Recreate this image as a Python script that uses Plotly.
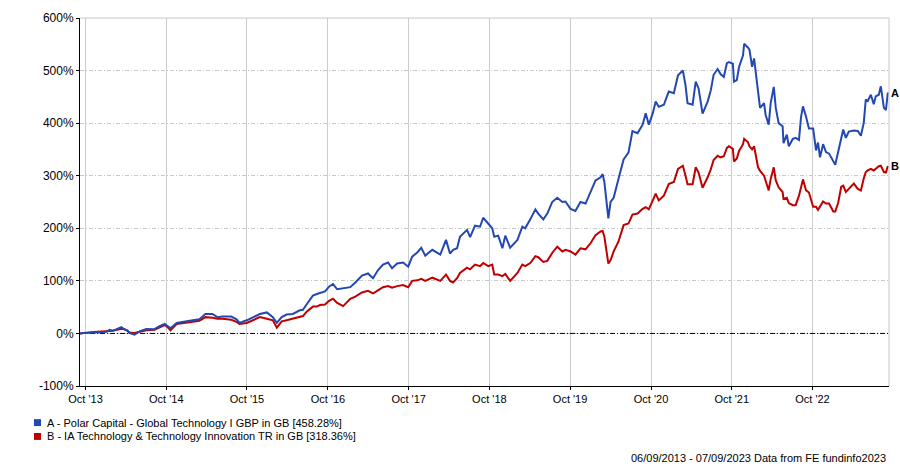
import plotly.graph_objects as go

# values (cumulative % return)
dates = [
    "2013-09-06", "2013-09-20", "2013-10-19", "2013-11-08", "2013-12-03", "2014-01-04", "2014-01-18",
    "2014-02-01", "2014-03-12", "2014-03-25", "2014-04-08", "2014-04-17", "2014-05-10", "2014-06-02",
    "2014-07-03", "2014-08-09", "2014-09-01", "2014-09-24", "2014-10-07", "2014-10-20", "2014-11-17",
    "2015-01-02", "2015-01-29", "2015-02-28", "2015-03-27", "2015-04-28", "2015-05-20", "2015-06-12",
    "2015-07-22", "2015-08-15", "2015-08-28", "2015-09-30", "2015-11-05", "2015-11-28", "2015-12-30",
    "2016-01-26", "2016-02-13", "2016-03-06", "2016-03-28", "2016-04-25", "2016-05-27", "2016-06-10",
    "2016-06-28", "2016-07-11", "2016-07-25", "2016-08-12", "2016-08-26", "2016-09-18", "2016-10-06",
    "2016-10-24", "2016-11-12", "2016-12-09", "2017-01-10", "2017-02-02", "2017-03-04", "2017-03-31",
    "2017-04-23", "2017-05-15", "2017-06-07", "2017-06-30", "2017-07-18", "2017-08-10", "2017-09-06",
    "2017-09-29", "2017-10-17", "2017-11-09", "2017-11-27", "2017-12-15", "2018-01-16", "2018-02-21",
    "2018-03-19", "2018-04-06", "2018-04-20", "2018-05-08", "2018-05-21", "2018-06-22", "2018-07-06",
    "2018-07-28", "2018-08-20", "2018-09-03", "2018-09-26", "2018-10-14", "2018-10-23", "2018-11-10",
    "2018-11-29", "2018-12-12", "2019-01-03", "2019-02-05", "2019-02-27", "2019-03-12", "2019-04-04",
    "2019-04-27", "2019-05-10", "2019-06-02", "2019-06-20", "2019-07-12", "2019-08-04", "2019-08-27",
    "2019-09-10", "2019-10-03", "2019-10-25", "2019-11-17", "2019-12-10", "2020-01-02", "2020-01-24",
    "2020-02-16", "2020-02-25", "2020-03-04", "2020-03-18", "2020-03-22", "2020-04-01", "2020-04-15",
    "2020-05-07", "2020-05-30", "2020-06-21", "2020-07-09", "2020-08-01", "2020-08-24", "2020-09-07",
    "2020-09-21", "2020-10-09", "2020-10-22", "2020-11-05", "2020-11-28", "2020-12-20", "2021-01-12",
    "2021-01-31", "2021-02-22", "2021-03-06", "2021-03-15", "2021-04-07", "2021-04-21", "2021-05-04",
    "2021-05-22", "2021-06-14", "2021-06-28", "2021-07-11", "2021-07-29", "2021-08-12", "2021-08-26",
    "2021-09-09", "2021-09-18", "2021-10-06", "2021-10-11", "2021-10-24", "2021-11-03", "2021-11-21",
    "2021-11-26", "2021-12-13", "2021-12-20", "2022-01-01", "2022-01-10", "2022-01-28", "2022-02-06",
    "2022-02-24", "2022-03-03", "2022-03-17", "2022-03-26", "2022-04-09", "2022-04-18", "2022-05-01",
    "2022-05-19", "2022-05-23", "2022-06-07", "2022-06-16", "2022-07-04", "2022-07-17", "2022-08-01",
    "2022-08-10", "2022-08-19", "2022-09-02", "2022-09-15", "2022-10-04", "2022-10-17", "2022-10-26",
    "2022-11-04", "2022-11-18", "2022-12-01", "2022-12-15", "2023-01-03", "2023-01-12", "2023-01-25",
    "2023-02-08", "2023-02-17", "2023-03-01", "2023-03-14", "2023-04-06", "2023-04-24", "2023-05-08",
    "2023-05-21", "2023-05-30", "2023-06-08", "2023-06-22", "2023-07-05", "2023-07-14", "2023-07-28",
    "2023-08-06", "2023-08-20", "2023-08-29", "2023-09-03", "2023-09-07",
]

polar = [
    0, 1, 1.5, 2, 3, 3, 7, 5, 12, 8, 6, 1, -2.5, 4, 8.5, 8, 14, 18, 14, 10, 20,
    24, 25, 27, 37, 37, 31, 32, 32, 27, 20, 25, 33, 37, 40,
    31, 20, 31, 36, 37, 44, 45, 56, 63, 72, 75, 77, 80, 89,
    94, 84, 86, 88, 97, 110, 114, 105, 120, 131, 135, 124, 133, 135,
    127, 146, 154, 163, 148, 159, 150, 178, 152, 159, 162, 184, 197, 183,
    205, 203, 220, 209, 200, 184, 186, 162, 186, 163, 178, 203, 200, 217,
    236, 228, 217, 228, 250, 258, 250, 251, 237, 233, 250, 247, 269, 291,
    297, 303, 288, 228, 219, 250, 258, 294, 331, 344, 385, 381, 397, 419,
    397, 419, 441, 431, 435, 460, 457, 491, 500, 472, 438, 435, 479, 466,
    418, 441, 462, 492, 503, 493, 488, 514, 516, 513, 479, 482, 507, 529,
    551, 544, 540, 507, 523, 460, 429, 438, 416, 397, 438, 469, 429, 400,
    394, 362, 378, 356, 370, 372, 368, 411, 432, 412, 390, 390, 348, 363,
    335, 360, 345, 342, 329, 321, 345, 373, 388, 372, 384, 386, 385, 376,
    401, 445, 442, 454, 436, 451, 454, 470, 429, 425, 454, 458.28,
]

ia_tech = [
    0, 1, 2, 2.5, 3, 4, 5, 5, 9, 8, 5, 2, 1, 3, 6, 7, 11, 16, 12, 6, 18,
    20, 22, 24, 31, 30, 28, 28, 26, 22, 18, 20, 26, 31, 28,
    25, 11, 23, 25, 28, 31, 33, 42, 47, 51, 51, 54, 55, 62,
    66, 58, 52, 66, 70, 78, 81, 76, 82, 88, 90, 87, 90, 92,
    88, 100, 101, 104, 100, 106, 100, 112, 100, 97, 105, 115, 125, 122,
    131, 128, 134, 128, 131, 112, 112, 109, 113, 100, 115, 131, 128, 134,
    147, 145, 136, 138, 153, 165, 156, 159, 156, 150, 162, 160, 172, 187,
    194, 195, 184, 137, 133, 139, 156, 175, 206, 209, 226, 228, 237, 240,
    236, 253, 266, 253, 262, 284, 288, 313, 319, 300, 284, 284, 316, 306,
    277, 297, 312, 330, 338, 335, 337, 353, 356, 351, 327, 333, 347, 360,
    370, 364, 356, 350, 356, 316, 309, 300, 291, 272, 294, 316, 291, 278,
    269, 256, 258, 248, 244, 244, 262, 275, 293, 272, 268, 241, 241, 235,
    241, 251, 247, 247, 232, 232, 248, 279, 281, 269, 275, 285, 275, 272,
    295, 307, 310, 313, 310, 313, 318, 319, 307, 306, 313, 318.36,
]

x_ticks = ["2013-10-01", "2014-10-01", "2015-10-01", "2016-10-01", "2017-10-01",
           "2018-10-01", "2019-10-01", "2020-10-01", "2021-10-01", "2022-10-01"]
y_ticks = [-100, 0, 100, 200, 300, 400, 500, 600]
y_labels = ["%d%%" % v for v in y_ticks]

series_names = [
    "A - Polar Capital - Global Technology I GBP in GB [458.28%]",
    "B - IA Technology & Technology Innovation TR in GB [318.36%]",
]
colours = ["#2448B2", "#C00000"]

FONT = "Liberation Sans, Arial, sans-serif"

fig = go.Figure()

# black dash-dot reference line at 0%
fig.add_trace(go.Scatter(x=[dates[0], "2023-09-12"], y=[0, 0], mode="lines",
                         line=dict(color="black", width=1, dash="5px,2px,1px,2px"), showlegend=False, hoverinfo="skip"))

for vals, col in [(ia_tech, colours[1]), (polar, colours[0])]:
    fig.add_trace(go.Scatter(x=dates, y=vals, mode="lines", line=dict(color=col, width=2),
                             showlegend=False, hoverinfo="skip"))

# end-of-line tags
for vals, tag in [(polar, "A"), (ia_tech, "B")]:
    fig.add_annotation(x=dates[-1], y=vals[-1], text="<b>%s</b>" % tag, showarrow=False, xanchor="left",
                       xshift=1, font=dict(family=FONT, size=11, color="black"))

# legend made of squares + text under the chart
legend_rows = [(-0.0995, colours[0], series_names[0]), (-0.1371, colours[1], series_names[1])]
for yy, col, name in legend_rows:
    fig.add_shape(type="rect", xref="paper", yref="paper", x0=-0.0569, x1=-0.0482, y0=yy - 0.0094, y1=yy + 0.0094,
                  fillcolor=col, line=dict(width=0))
    fig.add_annotation(xref="paper", yref="paper", x=-0.0433, y=yy, text=name, showarrow=False, xanchor="left",
                       yanchor="middle", font=dict(family=FONT, size=11, color="black"))

fig.add_annotation(xref="paper", yref="paper", x=0.999, y=-0.196,
                   text="06/09/2013 - 07/09/2023 Data from FE fundinfo2023",
                   showarrow=False, xanchor="right", yanchor="middle", font=dict(family=FONT, size=11, color="black"))

# grey top/right frame
fig.add_shape(type="line", xref="paper", yref="paper", x0=0, x1=1, y0=1, y1=1, line=dict(color="#c8c8c8", width=1))
fig.add_shape(type="line", xref="paper", yref="paper", x0=1, x1=1, y0=0, y1=1, line=dict(color="#c8c8c8", width=1))

fig.update_xaxes(range=["2013-09-06", "2023-09-12"], tickvals=x_ticks, tickformat="%b '%y",
                 showgrid=True, gridcolor="#cccccc", gridwidth=1,
                 showline=True, linecolor="black", linewidth=1, ticks="outside", ticklen=3, tickcolor="black",
                 tickfont=dict(family=FONT, size=11, color="black"), zeroline=False)
fig.update_yaxes(range=[-100, 600], tickvals=y_ticks, ticktext=y_labels,
                 showgrid=True, gridcolor="#c8c8c8", gridwidth=1, griddash="4px,2px,1px,2px",
                 showline=True, linecolor="black", linewidth=1, ticks="outside", ticklen=3, tickcolor="black",
                 tickfont=dict(family=FONT, size=12, color="black"), zeroline=False)

fig.update_layout(width=900, height=467, margin=dict(l=80, r=11, t=14, b=81),
                  plot_bgcolor="white", paper_bgcolor="white", font=dict(family=FONT), showlegend=False)

# drop the default page margin so the 900x467 figure fills the window exactly
fig.write_html("out.html", config={"displayModeBar": False},
               post_script="document.body.style.margin='0';document.body.style.overflow='hidden';")
